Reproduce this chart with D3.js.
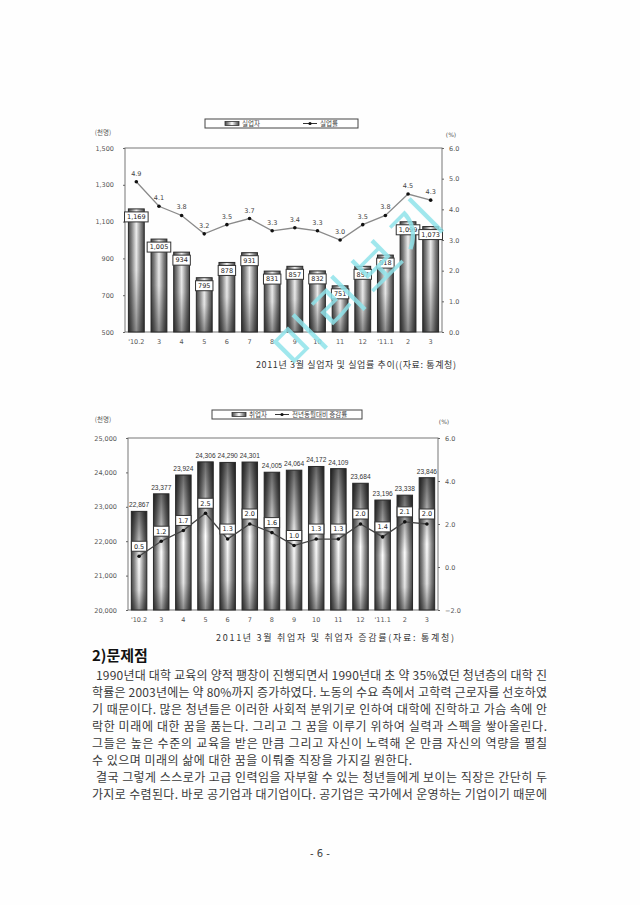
<!DOCTYPE html>
<meta charset="utf-8">
<style>
  body { margin: 0; background: #fff; }
  svg { display: block; }
  .tick text { font-family: "DejaVu Sans", sans-serif; font-size: 6.5px; fill: #555; }
  .tick line { stroke: #666; }
  .kr { font-family: "Noto Sans CJK KR", sans-serif; }
</style>
<body></body>
<script src="https://d3js.org/d3.v7.min.js"></script>
<script>

// months shared by both charts
const months = ["'10.2", "3", "4", "5", "6", "7", "8", "9", "10", "11", "12", "'11.1", "2", "3"];

// chart 1 : unemployed (thousand) and unemployment rate (%)
const unemployed = [1169, 1005, 934, 795, 878, 931, 831, 857, 832, 751, 857, 918, 1099, 1073];
const unemployRate = [4.9, 4.1, 3.8, 3.2, 3.5, 3.7, 3.3, 3.4, 3.3, 3.0, 3.5, 3.8, 4.5, 4.3];
const ticksL1 = [500, 700, 900, 1100, 1300, 1500];
const ticksR1 = [0, 1, 2, 3, 4, 5, 6];

// chart 2 : employed (thousand) and year-on-year change (%)
const employed = [22867, 23377, 23924, 24306, 24290, 24301, 24005, 24064, 24172, 24109, 23684, 23196, 23338, 23846];
const employRate = [0.5, 1.2, 1.7, 2.5, 1.3, 2.0, 1.6, 1.0, 1.3, 1.3, 2.0, 1.4, 2.1, 2.0];
const ticksL2 = [20000, 21000, 22000, 23000, 24000, 25000];
const ticksR2 = [-2, 0, 2, 4, 6];

const bodyLines = [
  "1990년대 대학 교육의 양적 팽창이 진행되면서 1990년대 초 약 35%였던 청년층의 대학 진",
  "학률은 2003년에는 약 80%까지 증가하였다. 노동의 수요 측에서 고학력 근로자를 선호하였",
  "기 때문이다. 많은 청년들은 이러한 사회적 분위기로 인하여 대학에 진학하고 가슴 속에 안",
  "락한 미래에 대한 꿈을 품는다. 그리고 그 꿈을 이루기 위하여 실력과 스펙을 쌓아올린다.",
  "그들은 높은 수준의 교육을 받은 만큼 그리고 자신이 노력해 온 만큼 자신의 역량을 펼칠",
  "수 있으며 미래의 삶에 대한 꿈을 이뤄줄 직장을 가지길 원한다.",
  "결국 그렇게 스스로가 고급 인력임을 자부할 수 있는 청년들에게 보이는 직장은 간단히 두",
  "가지로 수렴된다. 바로 공기업과 대기업이다. 공기업은 국가에서 운영하는 기업이기 때문에"
];

var svg = d3.select("body").append("svg").attr("width", 640).attr("height", 905);
svg.append("rect").attr("width", 640).attr("height", 905).attr("fill", "#fefefe");

var defs = svg.append("defs");
var hg = defs.append("linearGradient").attr("id", "barH").attr("x1", 0).attr("x2", 1).attr("y1", 0).attr("y2", 0);
[[0, "#4a4a4a"], [0.2, "#8a8a8a"], [0.5, "#ffffff"], [0.8, "#8a8a8a"], [1, "#4a4a4a"]]
  .forEach(s => hg.append("stop").attr("offset", s[0]).attr("stop-color", s[1]));
var v1 = defs.append("linearGradient").attr("id", "shade1").attr("x1", 0).attr("x2", 0).attr("y1", 0).attr("y2", 1);
[[0, 0.05], [0.5, 0.1], [1, 0.45]].forEach(s => v1.append("stop").attr("offset", s[0]).attr("stop-color", "#000").attr("stop-opacity", s[1]));
var v2 = defs.append("linearGradient").attr("id", "shade2").attr("x1", 0).attr("x2", 0).attr("y1", 0).attr("y2", 1);
[[0, 0.6], [0.3, 0.25], [0.5, 0], [0.8, 0.1], [1, 0.45]].forEach(s => v2.append("stop").attr("offset", s[0]).attr("stop-color", "#000").attr("stop-opacity", s[1]));

function boxLabel(g, x, y, txt) {
  var t = g.append("text").attr("x", x).attr("y", y + 2.3).attr("text-anchor", "middle")
    .style("font-family", "DejaVu Sans, sans-serif").style("font-size", "6.5px").attr("fill", "#222").text(txt);
  var w = t.node().getComputedTextLength() + 5;
  g.insert("rect", function(){ return t.node(); })
    .attr("x", x - w / 2).attr("y", y - 5).attr("width", w).attr("height", 10)
    .attr("fill", "#fff").attr("stroke", "#333").attr("stroke-width", 1);
}

function drawChart(o) {
  var g = svg.append("g");
  // index domain, since the month "3" appears twice
  var x = d3.scaleBand().domain(d3.range(months.length)).range([o.left, o.right]).paddingInner(0.3).paddingOuter(0.15);
  var yL = d3.scaleLinear().domain(o.domL).range([o.bottom, o.top]);
  var yR = d3.scaleLinear().domain(o.domR).range([o.bottom, o.top]);
  var cx = i => x(i) + x.bandwidth() / 2;

  // frame
  g.append("rect").attr("x", o.left).attr("y", o.top).attr("width", o.right - o.left).attr("height", o.bottom - o.top)
    .attr("fill", "none").attr("stroke", "#777").attr("stroke-width", 1);

  g.append("g").attr("transform", "translate(" + o.left + ",0)")
    .call(d3.axisLeft(yL).tickValues(o.ticksL).tickFormat(d3.format(",")).tickSize(2).tickPadding(9))
    .call(a => a.select(".domain").remove());
  g.append("g").attr("transform", "translate(" + o.right + ",0)")
    .call(d3.axisRight(yR).tickValues(o.ticksR).tickFormat(d3.format(".1f")).tickSize(2).tickPadding(5))
    .call(a => a.select(".domain").remove());
  g.append("g").attr("transform", "translate(0," + o.bottom + ")")
    .call(d3.axisBottom(x).tickSize(0).tickPadding(7).tickFormat(i => months[i]))
    .call(a => a.select(".domain").remove());

  // bars
  var bars = g.append("g");
  o.bars.forEach((v, i) => {
    bars.append("rect").attr("x", x(i)).attr("y", yL(v)).attr("width", x.bandwidth()).attr("height", o.bottom - yL(v))
      .attr("fill", "url(#barH)");
    bars.append("rect").attr("x", x(i)).attr("y", yL(v)).attr("width", x.bandwidth()).attr("height", o.bottom - yL(v))
      .attr("fill", "url(#" + o.shade + ")").attr("stroke", "#2a2a2a").attr("stroke-width", 1);
  });

  // rate line
  var line = d3.line().x((d, i) => cx(i)).y(d => yR(d));
  g.append("path").attr("d", line(o.rates)).attr("fill", "none").attr("stroke", o.lineColor).attr("stroke-width", 1.3);
  g.selectAll(null).data(o.rates).enter().append("circle")
    .attr("cx", (d, i) => cx(i)).attr("cy", d => yR(d)).attr("r", 1.8).attr("fill", "#111");

  // legend
  var lg = g.append("g");
  lg.append("rect").attr("x", o.leg.x).attr("y", o.leg.y).attr("width", o.leg.w).attr("height", 9)
    .attr("fill", "#fff").attr("stroke", "#444").attr("stroke-width", 1);
  lg.append("rect").attr("x", o.leg.x + 20).attr("y", o.leg.y + 2.5).attr("width", 14).attr("height", 4)
    .attr("fill", "url(#barH)").attr("stroke", "#333").attr("stroke-width", 0.8);
  lg.append("text").attr("class", "kr").attr("x", o.leg.x + 37).attr("y", o.leg.y + 7).style("font-size", "6.5px").attr("fill", "#444").text(o.leg.bar);
  lg.append("line").attr("x1", o.leg.lx).attr("x2", o.leg.lx + 14).attr("y1", o.leg.y + 4.5).attr("y2", o.leg.y + 4.5).attr("stroke", "#333");
  lg.append("circle").attr("cx", o.leg.lx + 7).attr("cy", o.leg.y + 4.5).attr("r", 1.6).attr("fill", "#111");
  lg.append("text").attr("class", "kr").attr("x", o.leg.lx + 17).attr("y", o.leg.y + 7).style("font-size", "6.5px").attr("fill", "#444").text(o.leg.line);

  // unit labels
  g.append("text").attr("class", "kr").attr("x", 103).attr("y", o.unitY).attr("text-anchor", "middle").style("font-size", "6.5px").attr("fill", "#555").text("(천명)");
  g.append("text").attr("x", o.pctX).attr("y", o.unitY + 2).attr("text-anchor", "middle").style("font-family", "DejaVu Sans").style("font-size", "6px").attr("fill", "#555").text("(%)");

  // caption
  g.append("text").attr("class", "kr").attr("x", o.cap.x).attr("y", o.cap.y).attr("textLength", o.cap.w).attr("lengthAdjust", "spacing")
    .style("font-size", "9px").attr("fill", "#333").text(o.cap.text);

  return {x: x, yL: yL, yR: yR, cx: cx, g: g};
}

// ---- chart 1
var c1 = drawChart({
  left: 125, right: 442, top: 148, bottom: 332,
  domL: [500, 1500], domR: [0, 6], ticksL: ticksL1, ticksR: ticksR1,
  bars: unemployed, rates: unemployRate, shade: "shade1", lineColor: "#8a8a8a",
  leg: {x: 205, y: 119, w: 153, lx: 303, bar: "실업자", line: "실업률"},
  unitY: 135, pctX: 451,
  cap: {x: 256, y: 368, w: 200, text: "2011년 3월 실업자 및 실업률 추이((자료: 통계청)"}
});
unemployed.forEach((v, i) => boxLabel(c1.g, c1.cx(i), c1.yL(v) + 8, d3.format(",")(v)));
unemployRate.forEach((v, i) => c1.g.append("text").attr("x", c1.cx(i)).attr("y", c1.yR(v) - 6)
  .attr("text-anchor", "middle").style("font-family", "DejaVu Sans").style("font-size", "6.5px").attr("fill", "#444").text(d3.format(".1f")(v)));

// ---- chart 2
var c2 = drawChart({
  left: 128, right: 438, top: 438, bottom: 610,
  domL: [20000, 25000], domR: [-2, 6], ticksL: ticksL2, ticksR: ticksR2,
  bars: employed, rates: employRate, shade: "shade2", lineColor: "#444",
  leg: {x: 212, y: 410, w: 150, lx: 275, bar: "취업자", line: "전년동월대비 증감률"},
  unitY: 422, pctX: 444,
  cap: {x: 216, y: 641, w: 238, text: "2011년 3월 취업자 및 취업자 증감률(자료: 통계청)"}
});
employed.forEach((v, i) => c2.g.append("text").attr("x", c2.cx(i)).attr("y", c2.yL(v) - 4)
  .attr("text-anchor", "middle").style("font-family", "Liberation Sans, sans-serif").style("font-size", "6.6px").attr("fill", "#333").text(d3.format(",")(v)));
employRate.forEach((v, i) => boxLabel(c2.g, c2.cx(i), c2.yR(v) - 10, d3.format(".1f")(v)));

// ---- watermark
svg.append("text").attr("class", "kr").attr("transform", "translate(358,285) rotate(-45)")
  .attr("text-anchor", "middle").attr("dy", "0.35em").attr("textLength", 212).attr("lengthAdjust", "spacing")
  .style("font-size", "52px").attr("fill", "#8fe3ea").attr("fill-opacity", 0.85).text("미리보기");

// ---- body text
svg.append("text").attr("class", "kr").attr("x", 92).attr("y", 661).style("font-size", "15px").style("font-weight", "bold")
  .attr("fill", "#111").text("2)문제점");

bodyLines.forEach((s, i) => {
  var indent = (i === 0 || i === 6) ? 96 : 92;
  var end = i === 5 ? 412 : 547;
  svg.append("text").attr("class", "kr").attr("x", indent).attr("y", 679.5 + i * 17.07)
    .attr("textLength", end - indent).attr("lengthAdjust", "spacing")
    .style("font-size", "12px").attr("fill", "#3a3a3a").text(s);
});

svg.append("text").attr("x", 320).attr("y", 857).attr("text-anchor", "middle").style("font-family", "DejaVu Sans")
  .style("font-size", "10px").attr("fill", "#444").text("- 6 -");

</script>
